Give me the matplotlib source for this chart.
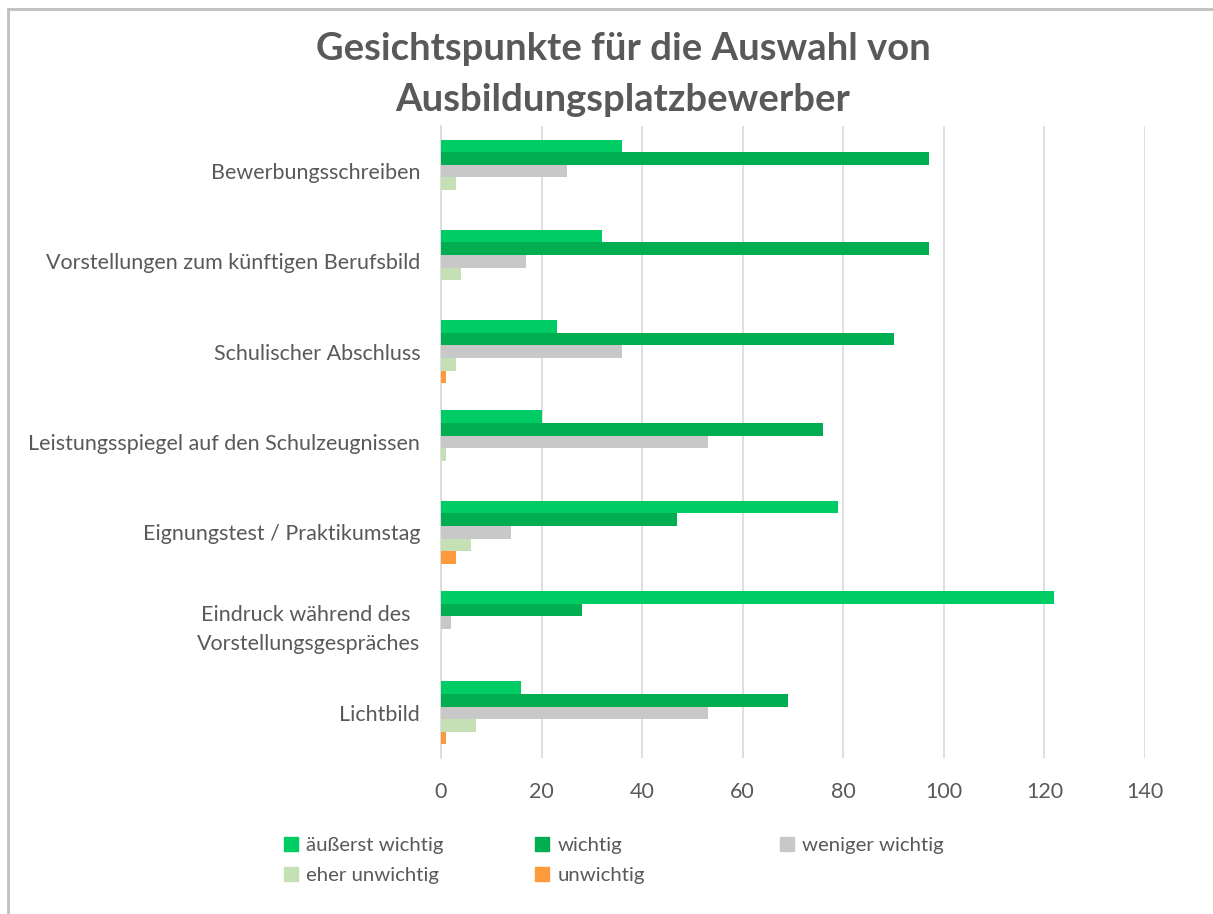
import numpy as np
import matplotlib.pyplot as plt
from matplotlib.patches import Patch
from matplotlib.lines import Line2D

plt.rcParams['font.family'] = ['Lato', 'DejaVu Sans']

categories = ['Bewerbungsschreiben',
              'Vorstellungen zum künftigen Berufsbild',
              'Schulischer Abschluss',
              'Leistungsspiegel auf den Schulzeugnissen',
              'Eignungstest / Praktikumstag',
              'Eindruck während des \nVorstellungsgespräches',
              'Lichtbild']

aeusserst = [36, 32, 23, 20, 79, 122, 16]
wichtig = [97, 97, 90, 76, 47, 28, 69]
weniger = [25, 17, 36, 53, 14, 2, 53]
eher_unwichtig = [3, 4, 3, 1, 6, 0, 7]
unwichtig = [0, 0, 1, 0, 3, 0, 1]

series_names = ['äußerst wichtig', 'wichtig', 'weniger wichtig', 'eher unwichtig', 'unwichtig']
series = [aeusserst, wichtig, weniger, eher_unwichtig, unwichtig]
colors = ['#00CC66', '#00AD50', '#C8C8C8', '#C5E0B4', '#FF9A3C']

text_col = '#595959'

fig = plt.figure(figsize=(12.13, 9.14), dpi=100)
ax = fig.add_axes([441 / 1213, 1 - 758 / 914, (1145 - 441) / 1213, (758 - 126) / 914])

y = np.arange(len(categories))
h = 0.14
for k, (vals, col) in enumerate(zip(series, colors)):
    ax.barh(y + (k - 2) * h, vals, height=h, color=col, zorder=3)

ax.set_xlim(0, 140)
ax.set_ylim(6.5, -0.5)
ax.set_xticks(np.arange(0, 141, 20))
ax.set_yticks(y)
ax.set_yticklabels(categories, multialignment='center')
for lab in ax.get_yticklabels():
    lab.set_linespacing(1.6)
ax.tick_params(axis='y', length=0, pad=15, labelsize=15.5, labelcolor=text_col)
ax.tick_params(axis='x', length=0, pad=17, labelsize=15.5, labelcolor=text_col)
ax.grid(axis='x', color='#D9D9D9', linewidth=1.2, zorder=0)
for s in ['top', 'right', 'bottom']:
    ax.spines[s].set_visible(False)
ax.spines['left'].set_color('#D9D9D9')
ax.spines['left'].set_linewidth(1.2)

fig.text(0.5136, 0.965, 'Gesichtspunkte für die Auswahl von\nAusbildungsplatzbewerber',
         ha='center', va='top', fontsize=27.5, fontweight='bold', color=text_col,
         linespacing=1.6)

# legend laid out in three columns like the original
handles = [Patch(color=c) for c in colors]
cols = [([0, 3], 284), ([1, 4], 535), ([2], 780)]
for idx, xpix in cols:
    lg = fig.legend([handles[i] for i in idx], [series_names[i] for i in idx],
                    loc='upper left', bbox_to_anchor=(xpix / 1213, 1 - 837 / 914),
                    frameon=False, fontsize=14.7, handlelength=0.7, handleheight=0.7,
                    handletextpad=0.4, borderpad=0, borderaxespad=0, labelspacing=0.6)
    for t in lg.get_texts():
        t.set_color(text_col)

# chart border
fig.add_artist(Line2D([8 / 1213, 8 / 1213], [0, 1 - 9 / 914], color='#BFBFBF', lw=2))
fig.add_artist(Line2D([8 / 1213, 1], [1 - 9 / 914, 1 - 9 / 914], color='#BFBFBF', lw=2))

fig.savefig('out.png', dpi=100, facecolor='white')
